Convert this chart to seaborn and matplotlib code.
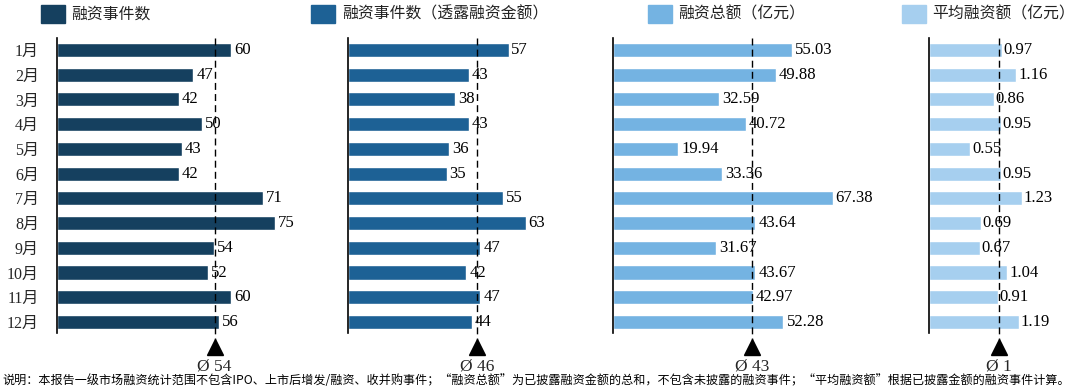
import numpy as np
import pandas as pd
import matplotlib
matplotlib.use("Agg")
import matplotlib.pyplot as plt
import matplotlib.transforms as mtransforms
from matplotlib.patches import Rectangle
import seaborn as sns


# DATA

months = ["1月", "2月", "3月", "4月", "5月", "6月",
          "7月", "8月", "9月", "10月", "11月", "12月"]

deal_count = [60, 47, 42, 50, 43, 42, 71, 75, 54, 52, 60, 56]
deal_count_disclosed = [57, 43, 38, 43, 36, 35, 55, 63, 47, 42, 47, 44]
total_amount = [55.03, 49.88, 32.59, 40.72, 19.94, 33.36,
                67.38, 43.64, 31.67, 43.67, 42.97, 52.28]
avg_amount = [0.97, 1.16, 0.86, 0.95, 0.55, 0.95,
              1.23, 0.69, 0.67, 1.04, 0.91, 1.19]

titles = ["融资事件数", "融资事件数（透露融资金额）", "融资总额（亿元）", "平均融资额（亿元）"]

note = ("说明：本报告一级市场融资统计范围不包含IPO、上市后增发/融资、收并购事件；“融资总额”为已披露融资金额的总和，"
        "不包含未披露的融资事件；“平均融资额”根据已披露金额的融资事件计算。")


# STYLE

sns.set_theme(style="white")
plt.rcParams["font.family"] = ["Liberation Serif", "Noto Sans CJK SC", "DejaVu Sans"]
cjk = ["Noto Sans CJK SC", "DejaVu Sans"]

W, H = 1074, 388
fig = plt.figure(figsize=(W / 100, H / 100), dpi=100)

# panel settings: (left px, width px, xmax, colour, value format, legend patch x, legend text x)
panels = [
    (57, 250, 86.2, "#15405f", "{:.0f}", 41, 71),
    (348, 230, 81.6, "#1d6195", "{:.0f}", 311, 342),
    (613, 260, 79.8, "#74b3e2", "{:.2f}", 648, 678),
    (929, 135, 1.79, "#a6cfef", "{:.2f}", 902, 932),
]
series = [deal_count, deal_count_disclosed, total_amount, avg_amount]

ax_top, ax_bot = 38, 333

for k, (left, width, xmax, color, fmt, lx, tx) in enumerate(panels):
    vals = series[k]
    df = pd.DataFrame({"月份": months, "值": vals})

    ax = fig.add_axes([left / W, 1 - ax_bot / H, width / W, (ax_bot - ax_top) / H])
    sns.barplot(data=df, x="值", y="月份", ax=ax, color=color,
                width=0.57, orient="h", saturation=1)

    ax.set_xlim(0, xmax)
    ax.set_ylim(11.445, -0.485)
    ax.set_xlabel("")
    ax.set_ylabel("")
    ax.set_xticks([])
    for s in ["top", "right", "bottom"]:
        ax.spines[s].set_visible(False)
    ax.spines["left"].set_color("black")
    ax.spines["left"].set_linewidth(1.2)
    ax.patch.set_alpha(0)

    if k == 0:
        ax.tick_params(axis="y", length=0, pad=13, labelsize=11.5)
    else:
        ax.set_yticks([])

    # value labels
    for i, v in enumerate(vals):
        ax.text(v + xmax * 0.012, i, fmt.format(v), va="center", ha="left",
                fontsize=12, color="black")

    # mean line + marker
    mean = np.mean(vals)
    trans = mtransforms.blended_transform_factory(ax.transData, ax.transAxes)
    ax.plot([mean, mean], [1, -0.024], transform=trans, color="black",
            lw=1, ls=(0, (5, 3)), clip_on=False, zorder=5)
    ax.plot([mean], [-0.046], transform=trans, marker="^", markersize=11,
            color="black", clip_on=False)
    ax.text(mean, -0.112, "Ø {:.0f}".format(mean), transform=trans,
            ha="center", va="center", fontsize=12.5)

    # legend patch + title
    fig.add_artist(Rectangle((lx / W, 1 - 23 / H), 24 / W, 18 / H,
                             transform=fig.transFigure, color=color))
    fig.text(tx / W, 1 - 14 / H, titles[k], family=cjk, fontsize=11.4,
             va="center", ha="left", color="#222222")

# NOTE

fig.text(2 / W, 1 - 380 / H, note, family=cjk, fontsize=8.7,
         va="center", ha="left", color="black")

fig.savefig("out.png", dpi=100)
